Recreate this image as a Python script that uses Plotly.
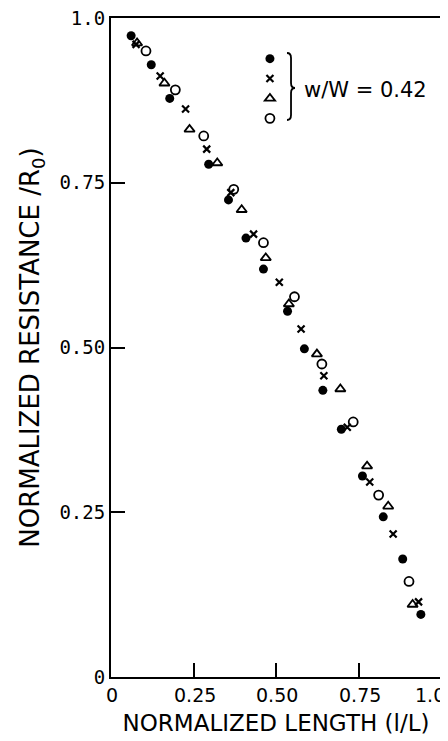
import plotly.graph_objects as go

# ---- data ----
filled_x = [0.061, 0.122, 0.178, 0.296, 0.356, 0.409, 0.462, 0.535, 0.586, 0.642, 0.698, 0.762, 0.825, 0.884, 0.939]
filled_y = [0.973, 0.929, 0.878, 0.778, 0.724, 0.666, 0.619, 0.555, 0.498, 0.435, 0.376, 0.305, 0.243, 0.179, 0.095]

cross_x = [0.076, 0.149, 0.226, 0.290, 0.363, 0.432, 0.510, 0.576, 0.645, 0.716, 0.784, 0.855, 0.932]
cross_y = [0.960, 0.912, 0.862, 0.801, 0.735, 0.672, 0.599, 0.528, 0.457, 0.379, 0.296, 0.217, 0.114]

tri_x = [0.079, 0.162, 0.238, 0.322, 0.396, 0.469, 0.539, 0.624, 0.695, 0.776, 0.840, 0.914]
tri_y = [0.962, 0.901, 0.831, 0.780, 0.709, 0.636, 0.566, 0.490, 0.437, 0.320, 0.259, 0.110]

open_x = [0.106, 0.195, 0.281, 0.372, 0.462, 0.556, 0.639, 0.734, 0.811, 0.903]
open_y = [0.950, 0.891, 0.821, 0.740, 0.659, 0.577, 0.475, 0.387, 0.276, 0.145]

tick_vals = [0, 0.25, 0.5, 0.75, 1.0]
tick_text = ["0", "0.25", "0.50", "0.75", "1.0"]

x_title = "NORMALIZED LENGTH (l/L)"
y_title = "NORMALIZED RESISTANCE /R<sub>0</sub>)"
group_label = "w/W = 0.42"

fig = go.Figure()
fig.add_trace(go.Scatter(x=filled_x, y=filled_y, mode="markers", name=" ",
                         marker=dict(symbol="circle", size=9, color="black")))
fig.add_trace(go.Scatter(x=cross_x, y=cross_y, mode="markers", name=" ",
                         marker=dict(symbol="x-thin", size=7, color="black",
                                     line=dict(width=2.2, color="black"))))
fig.add_trace(go.Scatter(x=tri_x, y=tri_y, mode="markers", name=" ",
                         marker=dict(symbol="triangle-up-open", size=9, color="black",
                                     line=dict(width=1.8, color="black"))))
fig.add_trace(go.Scatter(x=open_x, y=open_y, mode="markers", name=" ",
                         marker=dict(symbol="circle-open", size=9, color="black",
                                     line=dict(width=1.8, color="black"))))

axis_common = dict(range=[0, 1], tickvals=tick_vals, ticktext=tick_text,
                   ticks="inside", ticklen=14, tickwidth=2, tickcolor="black",
                   showline=True, linewidth=2, linecolor="black", mirror=True,
                   showgrid=False, zeroline=False, automargin=False,
                   ticklabeloverflow="allow")

# x tick labels are drawn as annotations at the tick values so the last one
# can sit flush with the right edge, as in the reference
fig.update_xaxes(**axis_common, showticklabels=False,
                 title=dict(text=x_title, standoff=37,
                            font=dict(family="DejaVu Sans", size=23, color="black")))
fig.update_yaxes(**axis_common,
                 tickfont=dict(family="DejaVu Sans Mono", size=19, color="black"),
                 title=dict(text=y_title, standoff=12,
                            font=dict(family="DejaVu Sans", size=26, color="black")))

for i, (v, t) in enumerate(zip(tick_vals, tick_text)):
    last = i == len(tick_vals) - 1
    fig.add_annotation(text=t, x=v, xref="x", y=0, yref="paper",
                       xanchor="right" if last else "center", yanchor="top",
                       xshift=6 if last else 1, yshift=-5, showarrow=False,
                       font=dict(family="DejaVu Sans", size=19, color="black"))

# brace joining the legend symbols
brace = ("M 0.5333,0.9469 Q 0.5455,0.9469 0.5455,0.9393 L 0.5455,0.9014 "
         "Q 0.5455,0.8938 0.5576,0.8938 Q 0.5455,0.8938 0.5455,0.8862 "
         "L 0.5455,0.8528 Q 0.5455,0.8452 0.5333,0.8452")
fig.add_shape(type="path", path=brace, xref="paper", yref="paper",
              line=dict(color="black", width=1.8))
fig.add_annotation(text=group_label, xref="paper", yref="paper",
                   x=0.578, y=0.891, xanchor="left", yanchor="middle",
                   showarrow=False,
                   font=dict(family="DejaVu Sans", size=21, color="black"))

fig.update_layout(
    width=440, height=733,
    margin=dict(l=103, r=7, t=10, b=64),
    paper_bgcolor="white", plot_bgcolor="white",
    showlegend=True,
    legend=dict(x=0.421, y=0.961, xanchor="left", yanchor="top",
                bgcolor="rgba(0,0,0,0)", font=dict(size=13),
                itemwidth=30, tracegroupgap=0),
)

fig.write_html("out.html")
